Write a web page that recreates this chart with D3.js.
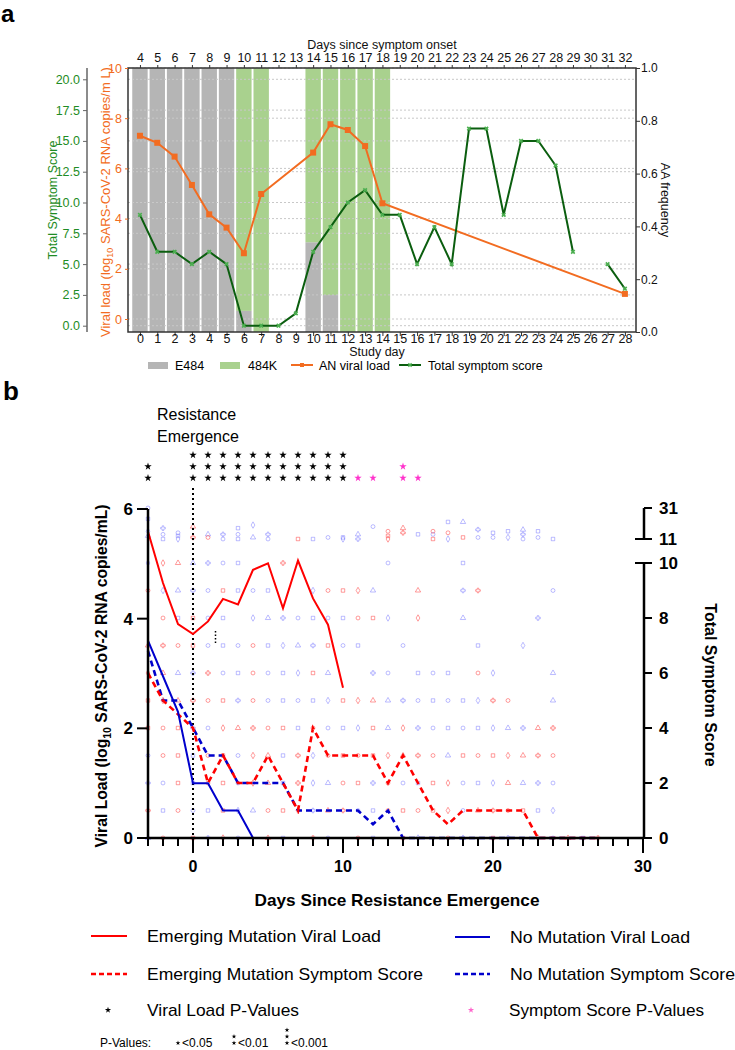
<!DOCTYPE html>
<html><head><meta charset="utf-8">
<script src="https://cdn.jsdelivr.net/npm/d3@7"></script>
<style>body{margin:0;background:#fff} svg{display:block;font-family:"Liberation Sans",Arial,sans-serif}</style>
</head><body><svg id="c" width="735" height="1050"></svg>
<script>
// ---------- Panel a data ----------
const studyDays = d3.range(0, 29);
const onsetDays = d3.range(4, 33);
const barDays = [0,1,2,3,4,5,6,7,10,11,12,13,14];
const e484Freq = [1,1,1,1,1,1,0.08,0,0.34,0.14,0,0,0];
const k484Freq = [0,0,0,0,0,0,0.92,1,0.66,0.86,1,1,1];
const vlDays = [0,1,2,3,4,5,6,7,10,11,12,13,14,28];
const vlValues = [7.30,7.02,6.47,5.34,4.17,3.64,2.62,4.98,6.63,7.76,7.53,6.89,4.61,1.0];
const tssValues = [9,6,6,5,6,5,0,0,0,1,6,8,10,11,9,9,5,8,5,16,16,9,15,15,13,6,null,5,3];
const ssTicks = [0,2.5,5,7.5,10,12.5,15,17.5,20];
const vlTicks = [0,2,4,6,8,10];
const aaTicks = [0,0.2,0.4,0.6,0.8,1.0];
const legendA = ["E484","484K","AN viral load","Total symptom score"];

// ---------- Panel b data ----------
const bLineDays = d3.range(-3, 28);
const emergVL = [5.59,4.65,3.90,3.72,3.95,4.36,4.26,4.89,5.01,4.19,5.06,4.37,3.89,2.74];
const noMutVL = [3.6,2.95,2.3,1.0,1.0,0.5,0.5,0,0,0,0,0,0,0];
const emergSS = [6,5,4.5,4,2,3,2,2,3,2,1,4,3,3,3,3,2,3,2,1,0.5,1,1,1,1,1,0,0,0,0,0];
const noMutSS = [6.8,5,5,4,3,3,2,2,2,2,1,1,1,1,1,0.5,1,0,0,0,0,0,0,0,0,0,0,0,0,0,0];
const emergPts = [[0,19],[0,12],[1,12],[7,11],[13,16],[13,13],[13,11],[14,18],[14,15],[16,16],[16,11],[17,15],[18,12],
 [-2,10],[-1,10],[6,10],
 [-3,9],[2,9],[9,9],[10,9],[11,9],[15,9],[19,9],
 [-2,8],[0,8],[11,8],[12,8],[15,8],
 [-3,7],[-2,7],[-1,7],[0,7],[4,7],[9,7],
 [-3,6],[-2,6],[1,6],[4,6],[8,6],[19,6],
 [-3,5],[-2,5],[-1,5],[0,5],[1,5],[2,5],[4,5],[10,5],[11,5],[12,5],[20,5],[21,5],
 [-3,4],[-2,4],[-1,4],[2,4],[3,4],[4,4],[5,4],[6,4],[8,4],[12,4],[14,4],[23,4],[24,4],
 [-2,3],[-1,3],[1,3],[2,3],[4,3],[5,3],[7,3],[9,3],[10,3],[11,3],[12,3],[13,3],[14,3],[15,3],[16,3],[18,3],[19,3],[20,3],[21,3],[22,3],[23,3],[24,3],
 [-1,2],[1,2],[2,2],[4,2],[5,2],[7,2],[10,2],[11,2],[13,2],[16,2],[17,2],[21,2],
 [-3,1],[-1,1],[2,1],[5,1],[6,1],[7,1],[9,1],[10,1],[13,1],[14,1],[15,1],[16,1],[17,1],[19,1],[20,1],[21,1],[22,1],
 [-2,0],[0,0],[2,0],[5,0],[8,0],[11,0],[14,0],[17,0],[20,0],[23,0],[25,0],[27,0]];
const noMutPts = [[-3,31],[-3,24],[-3,16],[-3,13],[-2,18],[-2,14],[-2,11],[-1,15],[-1,13],[-1,11],[1,14],[2,14],[2,11],[3,18],[3,14],[3,11],[4,20],[4,12],[5,14],[5,11],[8,11],[9,12],[10,12],[10,11],[11,14],[11,11],[12,19],[15,14],[16,14],[17,22],[17,11],[18,22],[19,17],[19,12],[20,15],[20,12],[21,16],[21,12],[22,17],[22,14],[22,11],[23,16],[23,12],[24,11],
 [-3,10],[0,10],[1,10],[2,10],[3,10],[13,10],[18,10],
 [-2,9],[-1,9],[0,9],[1,9],[3,9],[4,9],[5,9],[8,9],[12,9],[18,9],[24,9],
 [-1,8],[1,8],[2,8],[4,8],[5,8],[6,8],[7,8],[8,8],[9,8],[10,8],[13,8],[18,8],[23,8],
 [1,7],[2,7],[3,7],[5,7],[6,7],[7,7],[8,7],[10,7],[11,7],[14,7],[19,7],[22,7],
 [-1,6],[0,6],[2,6],[3,6],[5,6],[6,6],[7,6],[9,6],[12,6],[13,6],[15,6],[16,6],[17,6],[20,6],[24,6],
 [3,5],[5,5],[6,5],[7,5],[8,5],[9,5],[13,5],[14,5],[15,5],[16,5],[17,5],[18,5],[19,5],[24,5],
 [0,4],[1,4],[7,4],[9,4],[10,4],[11,4],[13,4],[15,4],[16,4],[17,4],[18,4],[19,4],[20,4],[21,4],[22,4],
 [-3,3],[0,3],[3,3],[6,3],[8,3],[17,3],
 [-3,2],[-2,2],[0,2],[3,2],[6,2],[8,2],[9,2],[12,2],[14,2],[15,2],[18,2],[19,2],[20,2],[22,2],[23,2],[24,2],
 [-2,1],[0,1],[1,1],[3,1],[4,1],[8,1],[11,1],[12,1],[18,1],[23,1],[24,1],
 [-3,0],[1,0],[3,0],[6,0],[9,0],[12,0],[15,0],[18,0],[21,0],[24,0],[26,0]];
const vlStarDays = [-3,0,1,2,3,4,5,6,7,8,9,10];
const vlStarCounts = [2,3,3,3,3,3,3,3,3,3,3,3];
const ssStarDays = [11,12,14,15];
const ssStarCounts = [1,1,2,1];
const bLeftTicks = [0,2,4,6];
const bRightTicks = [0,2,4,6,8,10,11,31];
const bXTicks = [0,10,20,30];
const legendB = ["Emerging Mutation Viral Load","No Mutation Viral Load","Emerging Mutation Symptom Score","No Mutation Symptom Score","Viral Load P-Values","Symptom Score P-Values"];

const svg = d3.select("#c");
const ORANGE = "#f26c21", GREENT = "#1e8c24", DKGREEN = "#0b5e0f", GRAYBAR = "#b5b5b5", GREENBAR = "#a9d18e";

// ================= PANEL A =================
svg.append("text").attr("x",1).attr("y",22).attr("font-size",24).attr("font-weight","bold").text("a");
const L=128,R=636,T=68,B=332;
const xA = d3.scaleLinear().domain([-0.69,28.64]).range([L,R]);
const xTop = d3.scaleLinear().domain([3.31,32.64]).range([L,R]);
const yAA = d3.scaleLinear().domain([0,1]).range([B,T]);
const yVL = d3.scaleLinear().domain([0,10]).range([319,T]);
const ySS = d3.scaleLinear().domain([0,20]).range([325.7,79.3]);
const bw = 15.4;
const ga = svg.append("g");
barDays.forEach((d,i)=>{
  const x0 = xA(d)-bw/2;
  if(e484Freq[i]>0) ga.append("rect").attr("x",x0).attr("width",bw).attr("y",yAA(e484Freq[i])).attr("height",B-yAA(e484Freq[i])).attr("fill",GRAYBAR);
  if(k484Freq[i]>0) ga.append("rect").attr("x",x0).attr("width",bw).attr("y",yAA(e484Freq[i]+k484Freq[i])).attr("height",yAA(e484Freq[i])-yAA(e484Freq[i]+k484Freq[i])).attr("fill",GREENBAR);
});
ssTicks.forEach(t=>ga.append("line").attr("x1",L).attr("x2",R).attr("y1",ySS(t)).attr("y2",ySS(t)).attr("stroke","#c8c8c8").attr("stroke-dasharray","2,2").attr("stroke-width",1));
vlTicks.forEach(t=>ga.append("line").attr("x1",L).attr("x2",R).attr("y1",yVL(t)).attr("y2",yVL(t)).attr("stroke","#c8c8c8").attr("stroke-dasharray","2,2").attr("stroke-width",1));
ga.append("rect").attr("x",L).attr("y",T).attr("width",R-L).attr("height",B-T).attr("fill","none").attr("stroke","#333").attr("stroke-width",1.5);
const axB = ga.append("g").attr("transform",`translate(0,${B})`).call(d3.axisBottom(xA).tickValues(studyDays).tickSize(4).tickSizeOuter(0).tickFormat(d3.format("d")));
axB.select(".domain").remove();
axB.selectAll("text").attr("font-size",12.5).attr("fill","#111").attr("y",2).attr("dy","0.72em");
axB.selectAll("line").attr("stroke","#333");
const axT = ga.append("g").attr("transform",`translate(0,${T})`).call(d3.axisTop(xTop).tickValues(onsetDays).tickSize(3).tickSizeOuter(0).tickFormat(d3.format("d")));
axT.select(".domain").remove();
axT.selectAll("text").attr("font-size",12.5).attr("fill","#111");
axT.selectAll("line").attr("stroke","#333");
const axR = ga.append("g").attr("transform",`translate(${R},0)`).call(d3.axisRight(yAA).tickValues(aaTicks).tickSize(4).tickPadding(1).tickSizeOuter(0).tickFormat(d3.format(".1f")));
axR.select(".domain").remove();
axR.selectAll("text").attr("font-size",12).attr("fill","#111");
axR.selectAll("line").attr("stroke","#333");
const axV = ga.append("g").attr("transform",`translate(${L},0)`).call(d3.axisLeft(yVL).tickValues(vlTicks).tickSize(3).tickSizeOuter(0).tickFormat(d3.format("d")));
axV.select(".domain").remove();
axV.selectAll("text").attr("font-size",12.5).attr("fill",ORANGE);
axV.selectAll("line").attr("stroke",ORANGE);
const axS = ga.append("g").attr("transform",`translate(87,0)`).call(d3.axisLeft(ySS).tickValues(ssTicks).tickSize(4).tickSizeOuter(0).tickFormat(d3.format(".1f")));
axS.select(".domain").remove();
axS.append("line").attr("y1",T).attr("y2",B).attr("stroke","#666").attr("stroke-width",1.5);
axS.selectAll("text").attr("font-size",12.5).attr("fill",GREENT);
axS.selectAll(".tick line").attr("stroke","#666");
ga.append("text").attr("x",(L+R)/2).attr("y",49).attr("text-anchor","middle").attr("font-size",12.5).attr("fill","#111").text("Days since symptom onset");
ga.append("text").attr("x",(L+R)/2-5).attr("y",356).attr("text-anchor","middle").attr("font-size",12.5).attr("fill","#111").text("Study day");
ga.append("text").attr("transform",`translate(661,${(T+B)/2}) rotate(90)`).attr("text-anchor","middle").attr("font-size",12.5).attr("fill","#111").text("AA frequency");
ga.append("text").attr("transform",`translate(57,${(T+B)/2}) rotate(-90)`).attr("text-anchor","middle").attr("font-size",12.5).attr("fill",GREENT).text("Total Symptom Score");
const vt = ga.append("text").attr("transform",`translate(110,${(T+B)/2+2}) rotate(-90)`).attr("text-anchor","middle").attr("font-size",13).attr("fill",ORANGE);
vt.append("tspan").text("Viral load (log");
vt.append("tspan").attr("font-size",9).attr("dy",3).text("10");
vt.append("tspan").attr("dy",-3).text(" SARS-CoV-2 RNA copies/m L)");
const vlLine = d3.line().x((d,i)=>xA(vlDays[i])).y(d=>yVL(d));
ga.append("path").attr("d",vlLine(vlValues)).attr("fill","none").attr("stroke",ORANGE).attr("stroke-width",2);
vlValues.forEach((v,i)=>ga.append("rect").attr("x",xA(vlDays[i])-3).attr("y",yVL(v)-3).attr("width",6).attr("height",6).attr("fill",ORANGE));
const ssLine = d3.line().defined(d=>d!==null).x((d,i)=>xA(studyDays[i])).y(d=>ySS(d));
ga.append("path").attr("d",ssLine(tssValues)).attr("fill","none").attr("stroke",DKGREEN).attr("stroke-width",2);
tssValues.forEach((v,i)=>{ if(v===null) return;
  ga.append("path").attr("transform",`translate(${xA(studyDays[i])},${ySS(v)}) rotate(45)`).attr("d",d3.symbol(d3.symbolCross,14)()).attr("fill","#4caf50");
});
const lgy = 365;
const la = ga.append("g");
la.append("rect").attr("x",148).attr("y",lgy-3).attr("width",20).attr("height",7).attr("fill",GRAYBAR);
la.append("text").attr("x",175).attr("y",lgy+4.5).attr("font-size",12.5).text(legendA[0]);
la.append("rect").attr("x",220).attr("y",lgy-3).attr("width",20).attr("height",7).attr("fill",GREENBAR);
la.append("text").attr("x",248).attr("y",lgy+4.5).attr("font-size",12.5).text(legendA[1]);
la.append("line").attr("x1",291).attr("x2",313).attr("y1",lgy).attr("y2",lgy).attr("stroke",ORANGE).attr("stroke-width",2);
la.append("rect").attr("x",300).attr("y",lgy-2).attr("width",4).attr("height",4).attr("fill",ORANGE);
la.append("text").attr("x",319).attr("y",lgy+4.5).attr("font-size",12.5).text(legendA[2]);
la.append("line").attr("x1",399).attr("x2",421).attr("y1",lgy).attr("y2",lgy).attr("stroke",DKGREEN).attr("stroke-width",2);
la.append("path").attr("transform",`translate(410,${lgy}) rotate(45)`).attr("d",d3.symbol(d3.symbolCross,12)()).attr("fill","#4caf50");
la.append("text").attr("x",428).attr("y",lgy+4.5).attr("font-size",12.5).text(legendA[3]);

// ================= PANEL B =================
svg.append("text").attr("x",3).attr("y",400).attr("font-size",26).attr("font-weight","bold").text("b");
const xB = d3.scaleLinear().domain([-3,30]).range([148,643]);
const yV = d3.scaleLinear().domain([0,6]).range([838,509]);
const yS = d3.scaleLinear().domain([0,10,11,31]).range([838,563,539,508]);
const gb = svg.append("g");
const symTypes = [d3.symbolCircle,d3.symbolSquare,d3.symbolDiamond,d3.symbolTriangle,d3.symbolCross,d3.symbolCircle,d3.symbolSquare];
function drawPts(pts,color,op,off){
  pts.forEach((p,i)=>{
    gb.append("path").attr("transform",`translate(${xB(p[0])},${yS(p[1])})`)
      .attr("d",d3.symbol(symTypes[(i+off)%symTypes.length],12)())
      .attr("fill","none").attr("stroke",color).attr("stroke-opacity",op).attr("stroke-width",1);
  });
}
drawPts(noMutPts,"#6a6aff",0.45,0);
drawPts(emergPts,"#ff3a3a",0.5,3);
gb.append("line").attr("x1",xB(0)).attr("x2",xB(0)).attr("y1",488).attr("y2",838).attr("stroke","#000").attr("stroke-width",2).attr("stroke-dasharray","2,3");
gb.append("line").attr("x1",xB(1.5)).attr("x2",xB(1.5)).attr("y1",631).attr("y2",644).attr("stroke","#000").attr("stroke-width",1.5).attr("stroke-dasharray","1.5,2");
gb.append("text").attr("x",157).attr("y",420).attr("font-size",16).text("Resistance");
gb.append("text").attr("x",157).attr("y",442).attr("font-size",16).text("Emergence");
const lnV = (arr)=>d3.line().x((d,i)=>xB(bLineDays[i])).y(d=>yV(d))(arr);
const lnS = (arr)=>d3.line().x((d,i)=>xB(bLineDays[i])).y(d=>yS(d))(arr);
gb.append("path").attr("d",lnS(noMutSS)).attr("fill","none").attr("stroke","#0000cc").attr("stroke-width",2.6).attr("stroke-dasharray","6,4");
gb.append("path").attr("d",lnS(emergSS)).attr("fill","none").attr("stroke","#ff0000").attr("stroke-width",2.6).attr("stroke-dasharray","6,4");
gb.append("path").attr("d",lnV(noMutVL)).attr("fill","none").attr("stroke","#0000cc").attr("stroke-width",2);
gb.append("path").attr("d",lnV(emergVL)).attr("fill","none").attr("stroke","#ff0000").attr("stroke-width",2);
const star = d3.symbol(d3.symbolStar,17)();
vlStarDays.forEach((d,i)=>{ for(let k=0;k<vlStarCounts[i];k++) gb.append("path").attr("transform",`translate(${xB(d)},${478-11.5*k})`).attr("d",star).attr("fill","#000"); });
ssStarDays.forEach((d,i)=>{ for(let k=0;k<ssStarCounts[i];k++) gb.append("path").attr("transform",`translate(${xB(d)},${478-11.5*k})`).attr("d",star).attr("fill","#ff33cc"); });
const axX = gb.append("g").attr("transform","translate(0,838)");
axX.append("line").attr("x1",148).attr("x2",643).attr("stroke","#000").attr("stroke-width",2.5);
d3.range(-3,31).forEach(d=>{ const maj = bXTicks.includes(d);
  axX.append("line").attr("x1",xB(d)).attr("x2",xB(d)).attr("y1",0).attr("y2",maj?15:8).attr("stroke","#000").attr("stroke-width",2); });
bXTicks.forEach(d=>axX.append("text").attr("x",xB(d)).attr("y",34).attr("text-anchor","middle").attr("font-size",16).attr("font-weight","bold").text(d));
const axY = gb.append("g");
axY.append("line").attr("x1",148).attr("x2",148).attr("y1",yV(0)+1).attr("y2",yV(6)).attr("stroke","#000").attr("stroke-width",2.5);
bLeftTicks.forEach(t=>{ axY.append("line").attr("x1",137).attr("x2",148).attr("y1",yV(t)).attr("y2",yV(t)).attr("stroke","#000").attr("stroke-width",2);
  axY.append("text").attr("x",133).attr("y",yV(t)+6).attr("text-anchor","end").attr("font-size",17).attr("font-weight","bold").text(t); });
const RX = 644;
const axR2 = gb.append("g");
axR2.append("line").attr("x1",RX).attr("x2",RX).attr("y1",yS(0)+1).attr("y2",yS(10)).attr("stroke","#000").attr("stroke-width",2.5);
axR2.append("line").attr("x1",RX).attr("x2",RX).attr("y1",yS(11)).attr("y2",yS(31)).attr("stroke","#000").attr("stroke-width",2.5);
bRightTicks.forEach(t=>{ const brk = (t===10||t===11);
  axR2.append("line").attr("x1",brk?RX-9:RX).attr("x2",RX+8).attr("y1",yS(t)).attr("y2",yS(t)).attr("stroke","#000").attr("stroke-width",2);
  axR2.append("text").attr("x",RX+15).attr("y",yS(t)+6).attr("font-size",17).attr("font-weight","bold").text(t); });
gb.append("text").attr("x",397).attr("y",906).attr("text-anchor","middle").attr("font-size",17).attr("font-weight","bold").attr("textLength",285).attr("lengthAdjust","spacingAndGlyphs").text("Days Since Resistance Emergence");
const yl = gb.append("text").attr("transform","translate(107,676) rotate(-90)").attr("text-anchor","middle").attr("font-size",15.7).attr("font-weight","bold");
yl.append("tspan").text("Viral Load (log");
yl.append("tspan").attr("font-size",10.5).attr("dy",4).text("10");
yl.append("tspan").attr("dy",-4).text(" SARS-CoV-2 RNA copies/mL)");
gb.append("text").attr("transform","translate(705,685) rotate(90)").attr("text-anchor","middle").attr("font-size",16).attr("font-weight","bold").text("Total Symptom Score");
// legend b
const lb = svg.append("g").attr("font-size",17);
const legRows = [936,974,1010];
const lw = [234,180,276,225,152,195];
function ltext(x,y,i){ lb.append("text").attr("x",x).attr("y",y).attr("textLength",lw[i]).attr("lengthAdjust","spacingAndGlyphs").text(legendB[i]); }
lb.append("line").attr("x1",91).attr("x2",127).attr("y1",legRows[0]).attr("y2",legRows[0]).attr("stroke","#ff0000").attr("stroke-width",2);
ltext(147,legRows[0]+6,0);
lb.append("line").attr("x1",455).attr("x2",490).attr("y1",legRows[0]+1).attr("y2",legRows[0]+1).attr("stroke","#0000cc").attr("stroke-width",2);
ltext(510,legRows[0]+7,1);
lb.append("line").attr("x1",91).attr("x2",127).attr("y1",legRows[1]).attr("y2",legRows[1]).attr("stroke","#ff0000").attr("stroke-width",2.5).attr("stroke-dasharray","5,3");
ltext(147,legRows[1]+6,2);
lb.append("line").attr("x1",455).attr("x2",490).attr("y1",legRows[1]).attr("y2",legRows[1]).attr("stroke","#0000cc").attr("stroke-width",2.5).attr("stroke-dasharray","5,3");
ltext(510,legRows[1]+6,3);
lb.append("path").attr("transform",`translate(108,${legRows[2]})`).attr("d",d3.symbol(d3.symbolStar,12)()).attr("fill","#000");
ltext(147,legRows[2]+6,4);
lb.append("path").attr("transform",`translate(471,${legRows[2]})`).attr("d",d3.symbol(d3.symbolStar,12)()).attr("fill","#ff66cc");
ltext(509,legRows[2]+6,5);
// p-values key
const pk = svg.append("g").attr("font-size",12);
pk.append("text").attr("x",100).attr("y",1047).text("P-Values:");
const sstar = d3.symbol(d3.symbolStar,7)();
[[178,1],[234,2],[287,3]].forEach(([x,n])=>{ for(let k=0;k<n;k++) pk.append("path").attr("transform",`translate(${x},${1043-6.5*k})`).attr("d",sstar).attr("fill","#000"); });
pk.append("text").attr("x",182).attr("y",1047).text("<0.05");
pk.append("text").attr("x",238).attr("y",1047).text("<0.01");
pk.append("text").attr("x",291).attr("y",1047).text("<0.001");
</script></body></html>
